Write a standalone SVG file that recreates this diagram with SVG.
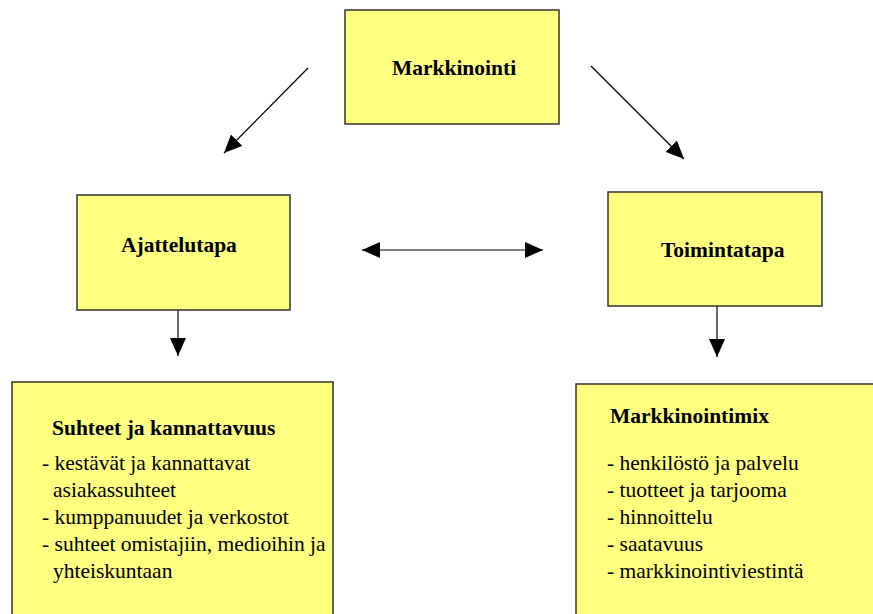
<svg xmlns="http://www.w3.org/2000/svg" width="873" height="614" viewBox="0 0 873 614">
  <style>
    .box { fill: #ffff80; stroke: #333333; stroke-width: 1.5; }
    text { font-family: 'Liberation Serif', 'DejaVu Serif', 'Times New Roman', Times, serif; font-size: 21.5px; fill: #000; }
    .title { font-weight: bold; }
    .conn { stroke: #000; stroke-width: 1.2; fill: none; }
  </style>
  <defs>
    <marker id="arrow" viewBox="0 0 18 16" refX="18" refY="8" markerWidth="18" markerHeight="16" markerUnits="userSpaceOnUse" orient="auto-start-reverse">
      <path d="M0,0 L18,8 L0,16 z" fill="#000"/>
    </marker>
  </defs>
  <rect width="873" height="614" fill="#ffffff"/>

  <g id="connectors">
    <line class="conn" x1="308" y1="68" x2="224" y2="153" marker-end="url(#arrow)"/>
    <line class="conn" x1="591" y1="66" x2="684" y2="159" marker-end="url(#arrow)"/>
    <line class="conn" x1="362" y1="250" x2="543" y2="250" marker-start="url(#arrow)" marker-end="url(#arrow)"/>
    <line class="conn" x1="178" y1="310" x2="178" y2="356" marker-end="url(#arrow)"/>
    <line class="conn" x1="717" y1="306" x2="717" y2="357" marker-end="url(#arrow)"/>
  </g>

  <g id="markkinointi">
    <rect class="box" x="345" y="10" width="214" height="114"/>
    <text class="title" x="454" y="75" text-anchor="middle">Markkinointi</text>
  </g>

  <g id="ajattelutapa">
    <rect class="box" x="77" y="195" width="213" height="115"/>
    <text class="title" x="121" y="252">Ajattelutapa</text>
  </g>

  <g id="toimintatapa">
    <rect class="box" x="608" y="192" width="214" height="114"/>
    <text class="title" x="661" y="257">Toimintatapa</text>
  </g>

  <g id="suhteet">
    <rect class="box" x="12" y="382" width="321" height="240"/>
    <text class="title" x="52" y="435">Suhteet ja kannattavuus</text>
    <text x="42" y="470">- kestävät ja kannattavat</text>
    <text x="53" y="497">asiakassuhteet</text>
    <text x="42" y="524">- kumppanuudet ja verkostot</text>
    <text x="42" y="551">- suhteet omistajiin, medioihin ja</text>
    <text x="53" y="578">yhteiskuntaan</text>
  </g>

  <g id="markkinointimix">
    <rect class="box" x="576" y="384" width="310" height="240"/>
    <text class="title" x="610" y="423">Markkinointimix</text>
    <text x="607" y="470">- henkilöstö ja palvelu</text>
    <text x="607" y="497">- tuotteet ja tarjooma</text>
    <text x="607" y="524">- hinnoittelu</text>
    <text x="607" y="551">- saatavuus</text>
    <text x="607" y="578">- markkinointiviestintä</text>
  </g>
</svg>
